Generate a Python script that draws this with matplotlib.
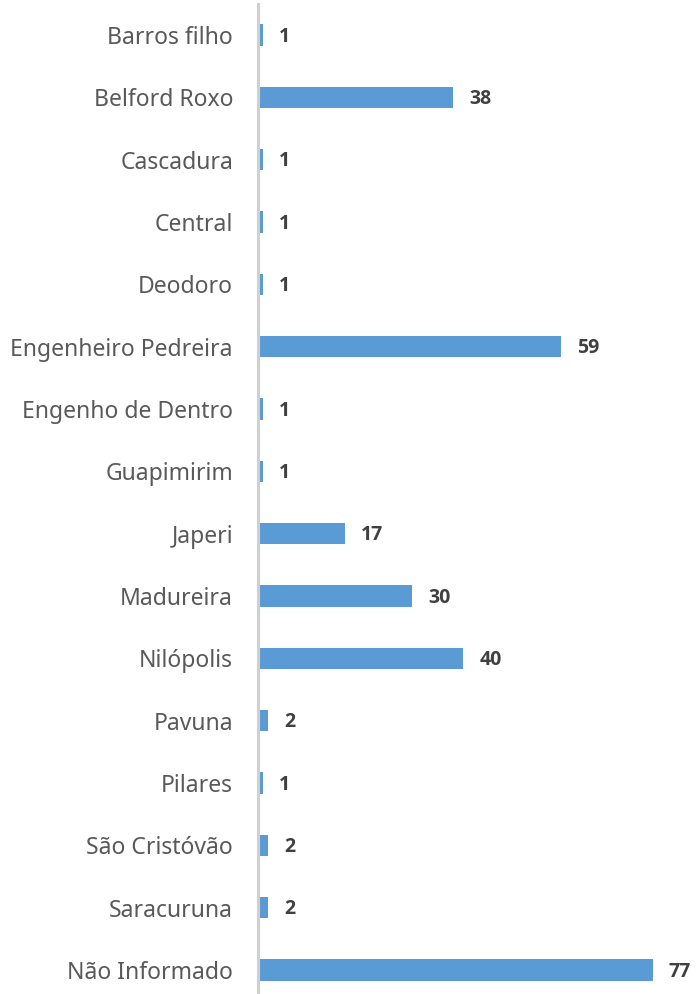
import matplotlib
matplotlib.use("Agg")
import matplotlib.pyplot as plt

categories = ["Barros filho", "Belford Roxo", "Cascadura", "Central", "Deodoro",
              "Engenheiro Pedreira", "Engenho de Dentro", "Guapimirim", "Japeri",
              "Madureira", "Nilópolis", "Pavuna", "Pilares", "São Cristóvão",
              "Saracuruna", "Não Informado"]
values = [1, 38, 1, 1, 1, 59, 1, 1, 17, 30, 40, 2, 1, 2, 2, 77]

plt.rcParams["font.family"] = ["Noto Sans", "DejaVu Sans"]

W, H = 699, 994
fig = plt.figure(figsize=(W / 100, H / 100), dpi=100)
left_px, right_px = 258, 699
top_px, bottom_px = 3.8, 1001.2
ax = fig.add_axes([left_px / W, 1 - bottom_px / H,
                   (right_px - left_px) / W, (bottom_px - top_px) / H])

n = len(categories)
ypos = list(range(n))
ax.barh(ypos, values, height=0.34, color="#5B9BD5", zorder=2)
ax.set_ylim(n - 0.5, -0.5)
ax.set_xlim(0, (right_px - left_px) / 5.13)

ax.set_yticks(ypos)
ax.set_yticklabels(categories, fontsize=16.5, color="#595959")
ax.tick_params(axis="y", length=0, pad=18)
ax.set_xticks([])

for s in ["top", "right", "bottom"]:
    ax.spines[s].set_visible(False)
ax.spines["left"].set_color("#D0D0D0")
ax.spines["left"].set_linewidth(2.2)
ax.spines["left"].set_zorder(3)

for y, v in zip(ypos, values):
    ax.annotate(str(v), xy=(v, y), xytext=(11.5, -1.2), textcoords="offset points",
                va="center", ha="left", fontsize=14, fontweight="bold",
                family=["Open Sans", "DejaVu Sans"], color="#404040")

fig.savefig("out.png", dpi=100)
